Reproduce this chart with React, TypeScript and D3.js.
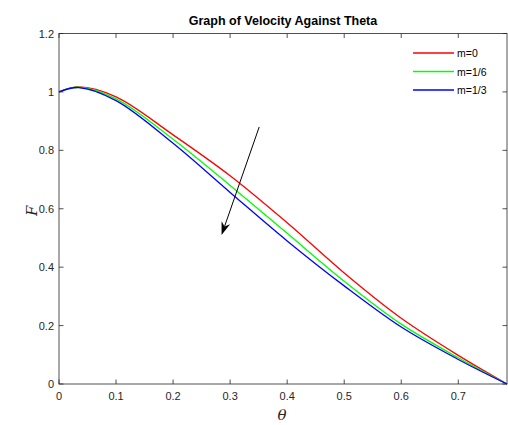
import React from 'react';
import * as d3 from 'd3';

// theta grid (rad) and velocity F for each m
const theta = [0, 0.035, 0.1, 0.2, 0.3, 0.4, 0.5, 0.6, 0.7, Math.PI / 4];
const fM0 = [1.0, 1.017, 0.983, 0.853, 0.713, 0.552, 0.38, 0.225, 0.098, 0];
const fM16 = [1.0, 1.016, 0.976, 0.838, 0.68, 0.516, 0.352, 0.205, 0.09, 0];
const fM13 = [1.0, 1.015, 0.97, 0.824, 0.656, 0.49, 0.336, 0.195, 0.084, 0];

const seriesNames = ['m=0', 'm=1/6', 'm=1/3'];
const seriesColors = ['#ff0000', '#00ff00', '#0000ff'];
const seriesValues = [fM0, fM16, fM13];

const xTicks = [0, 0.1, 0.2, 0.3, 0.4, 0.5, 0.6, 0.7];
const yTicks = [0, 0.2, 0.4, 0.6, 0.8, 1, 1.2];

// arrow (data coords): from start to end
const arrowFrom = [0.351, 0.88];
const arrowTo = [0.285, 0.51];

const W = 508;
const H = 425;
const left = 59;
const right = 507;
const top = 33.5;
const bottom = 384;

export default function App() {
  const x = d3.scaleLinear().domain([0, Math.PI / 4]).range([left, right]);
  const y = d3.scaleLinear().domain([0, 1.2]).range([bottom, top]);

  const line = d3.line<number>()
    .x((d, i) => x(theta[i]))
    .y(d => y(d))
    .curve(d3.curveCatmullRom.alpha(0.5));

  const axisColor = '#262626';
  const font = 'Liberation Sans, Arial, sans-serif';
  const tick = 4.5;

  const ax0 = x(arrowFrom[0]), ay0 = y(arrowFrom[1]);
  const ax1 = x(arrowTo[0]), ay1 = y(arrowTo[1]);
  const ang = Math.atan2(ay1 - ay0, ax1 - ax0);
  const headLen = 13, headW = 4.5;
  const bx = ax1 - headLen * Math.cos(ang), by = ay1 - headLen * Math.sin(ang);
  const px = -Math.sin(ang), py = Math.cos(ang);
  const head = `M${ax1},${ay1} L${bx + px * headW},${by + py * headW} L${ax1 - headLen * 0.7 * Math.cos(ang)},${ay1 - headLen * 0.7 * Math.sin(ang)} L${bx - px * headW},${by - py * headW} Z`;

  return (
    <svg width={W} height={H} style={{ position: 'absolute', left: 0, top: 0, background: '#fff' }}>
      <rect x={0} y={0} width={W} height={H} fill="#fff" />
      <text x={(left + right) / 2} y={25} textAnchor="middle" fontFamily={font} fontWeight="bold" fontSize={12.5} fill="#000">
        Graph of Velocity Against Theta
      </text>

      {seriesValues.map((vals, k) => (
        <path key={k} d={line(vals) || ''} fill="none" stroke={seriesColors[k]} strokeWidth={1.3} />
      ))}

      {/* axes box */}
      <rect x={left} y={top} width={right - left} height={bottom - top} fill="none" stroke={axisColor} strokeWidth={0.8} />

      {xTicks.map(t => (
        <g key={'x' + t}>
          <line x1={x(t)} x2={x(t)} y1={bottom} y2={bottom - tick} stroke={axisColor} strokeWidth={0.8} />
          <line x1={x(t)} x2={x(t)} y1={top} y2={top + tick} stroke={axisColor} strokeWidth={0.8} />
          <text x={x(t)} y={bottom + 16} textAnchor="middle" fontFamily={font} fontSize={11} fill="#262626">{t}</text>
        </g>
      ))}
      {yTicks.map(t => (
        <g key={'y' + t}>
          <line x1={left} x2={left + tick} y1={y(t)} y2={y(t)} stroke={axisColor} strokeWidth={0.8} />
          <line x1={right} x2={right - tick} y1={y(t)} y2={y(t)} stroke={axisColor} strokeWidth={0.8} />
          <text x={left - 5} y={y(t) + 4} textAnchor="end" fontFamily={font} fontSize={11} fill="#262626">{t}</text>
        </g>
      ))}

      <text x={(left + right) / 2 - 1} y={420} textAnchor="middle" fontFamily="DejaVu Serif, serif" fontStyle="italic" fontSize={15} fill="#262626">θ</text>
      <text transform={`translate(37,${(top + bottom) / 2 + 2}) rotate(-90)`} textAnchor="middle" fontFamily="DejaVu Serif, serif" fontStyle="italic" fontSize={15} fill="#262626">F</text>

      {/* arrow */}
      <line x1={ax0} y1={ay0} x2={bx + (ax1 - bx) * 0.3} y2={by + (ay1 - by) * 0.3} stroke="#000" strokeWidth={1} />
      <path d={head} fill="#000" />

      {/* legend */}
      {seriesNames.map((n, k) => (
        <g key={n} transform={`translate(0,${53 + k * 18.5})`}>
          <line x1={413} x2={454} y1={0} y2={0} stroke={seriesColors[k]} strokeWidth={1.3} />
          <text x={457} y={4} fontFamily={font} fontSize={10.5} fill="#000">{n}</text>
        </g>
      ))}
    </svg>
  );
}
